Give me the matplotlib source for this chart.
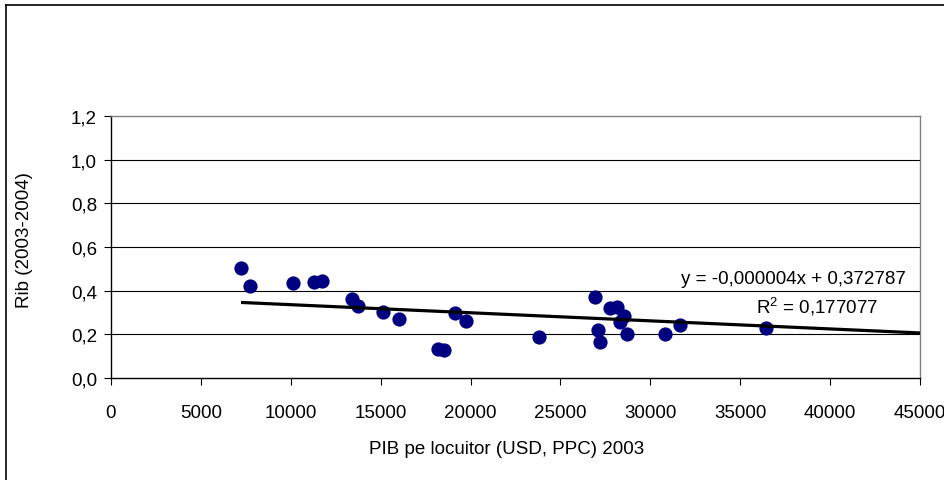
import matplotlib
matplotlib.use("Agg")
import matplotlib.pyplot as plt
from matplotlib.lines import Line2D

plt.rcParams['font.family'] = ['Liberation Sans', 'DejaVu Sans']
plt.rcParams['mathtext.default'] = 'regular'

# Data
pib = [7230, 7730, 10120, 11290, 11740, 13400, 13740, 15130, 16020, 18190,
       18520, 19130, 19750, 23800, 26920, 27090, 27200, 27750, 28140, 28530,
       28310, 28700, 30810, 31650, 36430]
rib = [0.504, 0.421, 0.435, 0.440, 0.444, 0.362, 0.330, 0.302, 0.270, 0.133,
       0.128, 0.298, 0.261, 0.188, 0.371, 0.220, 0.165, 0.320, 0.327, 0.284,
       0.256, 0.202, 0.202, 0.243, 0.229]

trend_slope = -0.0000037
trend_intercept = 0.3728
trend_x_end = 45000

x_ticks = [0, 5000, 10000, 15000, 20000, 25000, 30000, 35000, 40000, 45000]
y_ticks = [0.0, 0.2, 0.4, 0.6, 0.8, 1.0, 1.2]
y_tick_labels = ['0,0', '0,2', '0,4', '0,6', '0,8', '1,0', '1,2']

eq_text = 'y = -0,000004x + 0,372787'
r2_text = 'R$^{2}$ = 0,177077'
x_label = 'PIB pe locuitor (USD, PPC) 2003'
y_label = 'Rib (2003-2004)'

W, H = 945, 481
fig = plt.figure(figsize=(W / 100, H / 100), dpi=100)
fig.patch.set_facecolor('white')

# outer chart frame (left and top visible)
fig.add_artist(Line2D([6 / W, 6 / W], [0, 1 - 6 / H], transform=fig.transFigure,
                      color='black', lw=1.2))
fig.add_artist(Line2D([6 / W, 1], [1 - 6 / H, 1 - 6 / H], transform=fig.transFigure,
                      color='black', lw=1.2))

x0, x1 = 111, 920
y0, y1 = 379, 117
ax = fig.add_axes([x0 / W, 1 - y0 / H, (x1 - x0) / W, (y0 - y1) / H])
ax.set_facecolor('white')

ax.set_xlim(0, 45000)
ax.set_ylim(0, 1.2)
ax.set_xticks(x_ticks)
ax.set_xticklabels([str(v) for v in x_ticks])
ax.set_yticks(y_ticks)
ax.set_yticklabels(y_tick_labels)

for yv in y_ticks[1:-1]:
    ax.axhline(yv, color='black', lw=0.8, zorder=1)

ax.spines['left'].set_color('black')
ax.spines['bottom'].set_color('black')
ax.spines['top'].set_color('#808080')
ax.spines['right'].set_color('#808080')
for s in ax.spines.values():
    s.set_linewidth(1.0)

ax.tick_params(axis='both', direction='out', length=5, width=0.8, labelsize=13.5,
               colors='black')
ax.tick_params(axis='x', pad=14)
ax.tick_params(axis='y', pad=5)

ax.scatter(pib, rib, s=105, color='#000080', zorder=3, linewidths=0)

tx = [min(pib), trend_x_end]
ty = [trend_slope * v + trend_intercept for v in tx]
ax.plot(tx, ty, color='black', lw=2.3, zorder=4, solid_capstyle='butt')

fig.text(793 / W, 1 - 280 / H, eq_text, ha='center', va='center', fontsize=13.5)
fig.text(817 / W, 1 - 307 / H, r2_text, ha='center', va='center', fontsize=13.5)

fig.text(507 / W, 1 - 450 / H, x_label, ha='center', va='center', fontsize=13.5)
fig.text(25 / W, 1 - 240 / H, y_label, ha='center', va='center', rotation=90,
         fontsize=13.5)

fig.savefig('out.png', dpi=100, facecolor='white')
